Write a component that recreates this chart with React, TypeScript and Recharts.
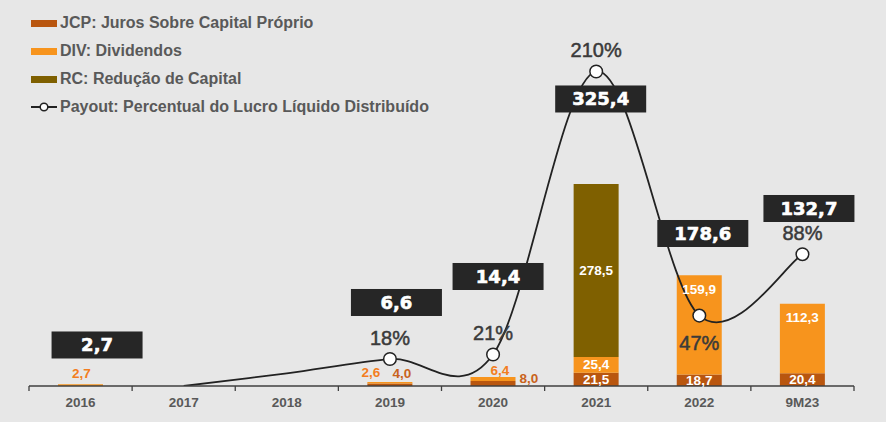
import React from 'react';
import { ComposedChart, Bar, Line, XAxis, YAxis, LabelList, Legend } from 'recharts';

// ---------- data ----------
const categories = ['2016', '2017', '2018', '2019', '2020', '2021', '2022', '9M23'];
const jcpValues = [null, null, null, 4.0, 8.0, 21.5, 18.7, 20.4];
const divValues = [2.7, null, null, 2.6, 6.4, 25.4, 159.9, 112.3];
const rcValues = [null, null, null, null, null, 278.5, null, null];
const totalValues = [2.7, null, null, 6.6, 14.4, 325.4, 178.6, 132.7];
const payoutValues = [null, 0, 8.5, 18, 21, 210, 47, 88];
const payoutMarked = ['2019', '2020', '2021', '2022', '9M23'];

const seriesValues: Record<string, (number | null)[]> = {
  jcp: jcpValues,
  div: divValues,
  rc: rcValues,
  total: totalValues,
  payout: payoutValues,
};

// ---------- layout ----------
const W = 886;
const H = 422;
const MARGIN = { top: 46, right: 32, left: 29, bottom: 0 };
const X_AXIS_H = 36;
const AXIS_Y = H - MARGIN.bottom - X_AXIS_H;
const PLOT_W = W - MARGIN.left - MARGIN.right;
const BAR_MAX = 548;
const PCT_MAX = 227;
// vertical centre of each total box, in bar-axis units
const BOX_LEVEL = [66.1, null, null, 134.6, 176.5, 462.6, 245.8, 286.1];
const BOX_DX = [16.5, 0, 0, 6.5, 5, 4.5, 3.5, 6.5];
const BOX_W = 91;
const BOX_H = 27;
// small labels drawn outside thin segments: [dx from bar centre, dy from segment top]
const SMALL_LABEL: Record<string, [number, number]> = {
  'div-2016': [1, -11],
  'div-2019': [-19, -9],
  'jcp-2019': [12, -10.5],
  'div-2020': [7, -7],
  'jcp-2020': [36, -3],
};
const PCT_BELOW = ['2022'];
const PCT_DY_ABOVE = -21.5;
const PCT_DY_BELOW = 27;

// ---------- style ----------
const FONT = '"Liberation Sans", Arial, sans-serif';
const BOX_FONT = '"DejaVu Sans", sans-serif';
const BG = '#e7e7e7';
const C_JCP = '#b9560f';
const C_DIV = '#f7941d';
const C_RC = '#7f6000';
const C_JCP_TEXT = '#c9621b';
const C_DIV_TEXT = '#f37d20';
const C_LINE = '#222222';
const C_AXIS = '#404040';
const C_TICK_TEXT = '#595959';
const C_PCT_TEXT = '#3a3a3a';

const legendItems = [
  { label: 'JCP: Juros Sobre Capital Próprio', color: C_JCP, kind: 'bar' },
  { label: 'DIV: Dividendos', color: C_DIV, kind: 'bar' },
  { label: 'RC: Redução de Capital', color: C_RC, kind: 'bar' },
  { label: 'Payout: Percentual do Lucro Líquido Distribuído', color: C_LINE, kind: 'line' },
];

const tableData = categories.map((category, i) => ({
  category,
  jcp: jcpValues[i],
  div: divValues[i],
  rc: rcValues[i],
  total: totalValues[i],
  payout: payoutValues[i],
  boxLevel: BOX_LEVEL[i],
}));

const fmt = (v: number) => v.toFixed(1).replace('.', ',');
const categoryOf = (entry: any) => entry?.payload?.category;

// Catmull-Rom style smoothing (like spreadsheet "smoothed line")
const smoothCurve = (context: any) => {
  let pts: [number, number][] = [];
  return {
    areaStart() {},
    areaEnd() {},
    lineStart() {
      pts = [];
    },
    lineEnd() {
      if (!pts.length) return;
      context.moveTo(pts[0][0], pts[0][1]);
      for (let i = 0; i < pts.length - 1; i++) {
        const p0 = pts[Math.max(0, i - 1)];
        const p1 = pts[i];
        const p2 = pts[i + 1];
        const p3 = pts[Math.min(pts.length - 1, i + 2)];
        context.bezierCurveTo(
          p1[0] + (p2[0] - p0[0]) / 6,
          p1[1] + (p2[1] - p0[1]) / 6,
          p2[0] - (p3[0] - p1[0]) / 6,
          p2[1] - (p3[1] - p1[1]) / 6,
          p2[0],
          p2[1]
        );
      }
    },
    point(x: number, y: number) {
      pts.push([+x, +y]);
    },
  };
};

const getBox = (p: any) => {
  const vb = p.viewBox || {};
  return {
    x: vb.x ?? p.x ?? 0,
    y: vb.y ?? p.y ?? 0,
    width: vb.width ?? p.width ?? 0,
    height: vb.height ?? p.height ?? 0,
  };
};

const makeBarLabel = (series: string, smallColor: string) => (props: any) => {
  const cat = props.value;
  const ci = categories.indexOf(cat);
  if (ci < 0) return null;
  const value = seriesValues[series][ci];
  if (value == null) return null;
  const { x, y, width, height } = getBox(props);
  const cx = x + width / 2;
  const small = SMALL_LABEL[`${series}-${cat}`];
  if (small) {
    return (
      <text
        x={cx + small[0]}
        y={y + small[1]}
        textAnchor="middle"
        dominantBaseline="central"
        fill={smallColor}
        fontSize={13.5}
        fontWeight="bold"
        fontFamily={FONT}
      >
        {fmt(value)}
      </text>
    );
  }
  const ty = series === 'div' && height > 30 ? y + 14 : y + height / 2;
  return (
    <text
      x={cx}
      y={ty}
      textAnchor="middle"
      dominantBaseline="central"
      fill="#ffffff"
      fontSize={13.5}
      fontWeight="bold"
      fontFamily={FONT}
    >
      {fmt(value)}
    </text>
  );
};

const renderBox = (props: any) => {
  const ci = categories.indexOf(props.value);
  if (ci < 0) return null;
  const value = totalValues[ci];
  if (value == null || BOX_LEVEL[ci] == null) return null;
  const { x, y } = getBox(props);
  const cx = x + BOX_DX[ci];
  return (
    <g>
      <rect x={cx - BOX_W / 2} y={y - BOX_H / 2} width={BOX_W} height={BOX_H} fill="#262626" />
      <text
        x={cx}
        y={y}
        textAnchor="middle"
        dominantBaseline="central"
        fill="#ffffff"
        stroke="#ffffff"
        strokeWidth={0.6}
        fontSize={18}
        fontWeight="bold"
        fontFamily={BOX_FONT}
      >
        {fmt(value)}
      </text>
    </g>
  );
};

const renderPct = (props: any) => {
  const cat = props.value;
  const ci = categories.indexOf(cat);
  if (ci < 0 || !payoutMarked.includes(cat)) return null;
  const value = payoutValues[ci];
  if (value == null) return null;
  const { x, y } = getBox(props);
  const dy = PCT_BELOW.includes(cat) ? PCT_DY_BELOW : PCT_DY_ABOVE;
  return (
    <text
      x={x}
      y={y + dy}
      textAnchor="middle"
      dominantBaseline="central"
      fill={C_PCT_TEXT}
      stroke={C_PCT_TEXT}
      strokeWidth={0.5}
      fontSize={20}
      fontFamily={FONT}
    >
      {`${value}%`}
    </text>
  );
};

const renderDot = (p: any) => {
  const cat = p.payload?.category;
  if (!payoutMarked.includes(cat) || p.cx == null || p.cy == null) return <g key={`dot-${p.index}`} />;
  return (
    <circle key={`dot-${p.index}`} cx={p.cx} cy={p.cy} r={6.3} fill="#ffffff" stroke={C_LINE} strokeWidth={1.5} />
  );
};

const renderTick = (p: any) => {
  const { x, index, payload } = p;
  const band = PLOT_W / categories.length;
  const last = index === categories.length - 1;
  return (
    <g>
      <line x1={x - band / 2} x2={x - band / 2} y1={AXIS_Y} y2={AXIS_Y + 5} stroke={C_AXIS} strokeWidth={1.3} />
      {last && <line x1={x + band / 2} x2={x + band / 2} y1={AXIS_Y} y2={AXIS_Y + 5} stroke={C_AXIS} strokeWidth={1.3} />}
      <text x={x} y={AXIS_Y + 21} textAnchor="middle" fill={C_TICK_TEXT} fontSize={13.5} fontWeight="bold" fontFamily={FONT}>
        {payload.value}
      </text>
    </g>
  );
};

const renderLegend = () => (
  <div style={{ fontFamily: FONT, fontWeight: 'bold', fontSize: 16, color: C_TICK_TEXT, whiteSpace: 'nowrap' }}>
    {legendItems.map((item) => (
      <div key={item.label} style={{ display: 'flex', alignItems: 'center', height: 28 }}>
        {item.kind === 'bar' ? (
          <span style={{ display: 'inline-block', width: 26, height: 7, background: item.color, marginRight: 3 }} />
        ) : (
          <svg width={26} height={12} style={{ marginRight: 3, display: 'block' }}>
            <line x1={0} x2={26} y1={6} y2={6} stroke={item.color} strokeWidth={2} />
            <circle cx={13} cy={6} r={3.8} fill="#ffffff" stroke={item.color} strokeWidth={1.5} />
          </svg>
        )}
        <span>{item.label}</span>
      </div>
    ))}
  </div>
);

export default function App() {
  return (
    <div style={{ position: 'fixed', left: 0, top: 0, width: W, height: H, background: BG, fontFamily: FONT }}>
      <ComposedChart width={W} height={H} data={tableData} margin={MARGIN}>
        <XAxis
          dataKey="category"
          height={X_AXIS_H}
          interval={0}
          tickLine={false}
          axisLine={{ stroke: C_AXIS, strokeWidth: 1.3 }}
          tick={renderTick}
        />
        <YAxis yAxisId="bars" hide domain={[0, BAR_MAX]} allowDataOverflow />
        <YAxis yAxisId="pct" hide domain={[0, PCT_MAX]} allowDataOverflow />
        <Legend
          layout="vertical"
          align="center"
          verticalAlign="middle"
          content={renderLegend}
          wrapperStyle={{ position: 'absolute', left: 31, top: 9, width: 520 }}
        />
        <Bar yAxisId="bars" dataKey="jcp" stackId="s" fill={C_JCP} barSize={45} isAnimationActive={false}>
          <LabelList valueAccessor={categoryOf} content={makeBarLabel('jcp', C_JCP_TEXT)} />
        </Bar>
        <Bar yAxisId="bars" dataKey="div" stackId="s" fill={C_DIV} barSize={45} isAnimationActive={false}>
          <LabelList valueAccessor={categoryOf} content={makeBarLabel('div', C_DIV_TEXT)} />
        </Bar>
        <Bar yAxisId="bars" dataKey="rc" stackId="s" fill={C_RC} barSize={45} isAnimationActive={false}>
          <LabelList valueAccessor={categoryOf} content={makeBarLabel('rc', C_RC)} />
        </Bar>
        <Line
          yAxisId="pct"
          dataKey="payout"
          type={smoothCurve as any}
          stroke={C_LINE}
          strokeWidth={1.8}
          dot={renderDot}
          activeDot={false}
          isAnimationActive={false}
        >
          <LabelList valueAccessor={categoryOf} content={renderPct} />
        </Line>
        <Line
          yAxisId="bars"
          dataKey="boxLevel"
          stroke="none"
          dot={false}
          activeDot={false}
          isAnimationActive={false}
          legendType="none"
        >
          <LabelList valueAccessor={categoryOf} content={renderBox} />
        </Line>
      </ComposedChart>
    </div>
  );
}
